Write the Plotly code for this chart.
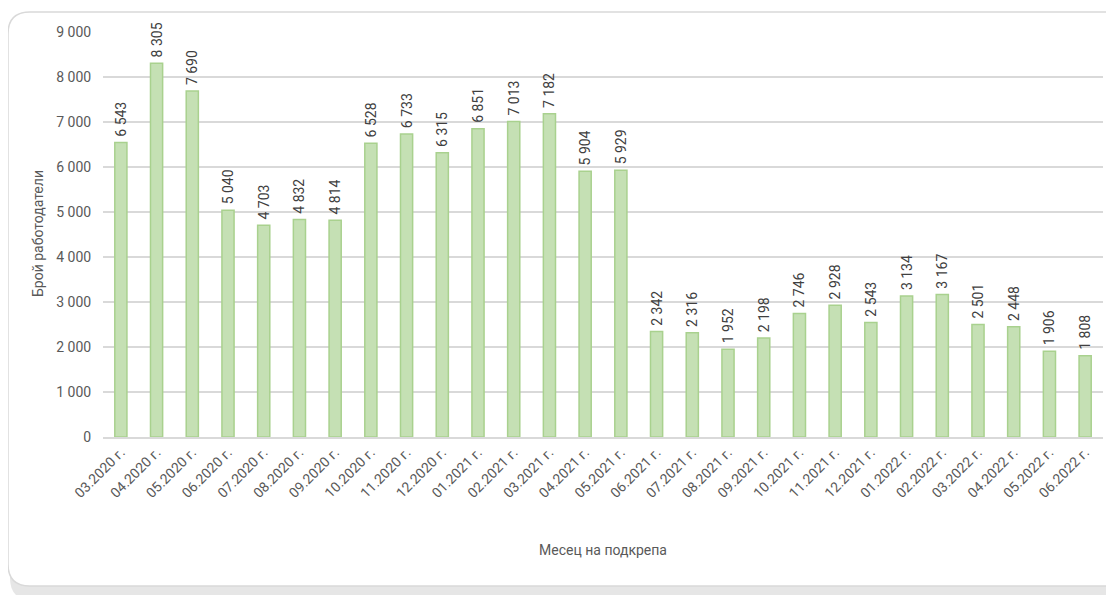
import plotly.graph_objects as go

# Monthly count of employers receiving support
months = ["03.2020 г.", "04.2020 г.", "05.2020 г.", "06.2020 г.", "07.2020 г.", "08.2020 г.",
          "09.2020 г.", "10.2020 г.", "11.2020 г.", "12.2020 г.", "01.2021 г.", "02.2021 г.",
          "03.2021 г.", "04.2021 г.", "05.2021 г.", "06.2021 г.", "07.2021 г.", "08.2021 г.",
          "09.2021 г.", "10.2021 г.", "11.2021 г.", "12.2021 г.", "01.2022 г.", "02.2022 г.",
          "03.2022 г.", "04.2022 г.", "05.2022 г.", "06.2022 г."]
employers = [6543, 8305, 7690, 5040, 4703, 4832, 4814, 6528, 6733, 6315, 6851, 7013,
             7182, 5904, 5929, 2342, 2316, 1952, 2198, 2746, 2928, 2543, 3134, 3167,
             2501, 2448, 1906, 1808]
y_ticks = [0, 1000, 2000, 3000, 4000, 5000, 6000, 7000, 8000, 9000]

# the page body has an 8px margin, so the figure is drawn 8px smaller
OFF = 8
W, H = 1114 - OFF, 595 - OFF
M_L, M_R, M_T, M_B = 103 - OFF, 1114 - 1103, 32 - OFF, 595 - 437
PW, PH = W - M_L - M_R, H - M_T - M_B

FONT = "Roboto, Arial"
GREY = "#595959"


def px(x, y):
    # screen pixel -> paper coordinates
    x, y = x - OFF, y - OFF
    return (x - M_L) / PW, (H - M_B - y) / PH


def rounded_rect(x0, y0, x1, y1, r):
    def p(x, y):
        a, b = px(x, y)
        return f"{a:.5f},{b:.5f}"
    pts = [
        "M" + p(x0 + r, y0),
        "L" + p(x1 - r, y0),
        "Q" + p(x1, y0) + " " + p(x1, y0 + r),
        "L" + p(x1, y1 - r),
        "Q" + p(x1, y1) + " " + p(x1 - r, y1),
        "L" + p(x0 + r, y1),
        "Q" + p(x0, y1) + " " + p(x0, y1 - r),
        "L" + p(x0, y0 + r),
        "Q" + p(x0, y0) + " " + p(x0 + r, y0),
    ]
    return " ".join(pts) + " Z"


labels = ["\u2009" + f"{v:,}".replace(",", " ") for v in employers]

fig = go.Figure()
fig.add_trace(go.Bar(
    x=months,
    y=employers,
    text=labels,
    textposition="outside",
    textangle=-90,
    cliponaxis=False,
    textfont=dict(family=FONT, size=14, color="#404040"),
    marker=dict(color="#c5e0b4", line=dict(color="#a9d18e", width=1.5)),
    hoverinfo="x+y",
))

shapes = [
    # shadow under the card
    dict(type="path", xref="paper", yref="paper", layer="below",
         path=rounded_rect(10, 16, 1140, 600, 22),
         fillcolor="#e6e6e6", line=dict(width=0)),
    dict(type="path", xref="paper", yref="paper", layer="below",
         path=rounded_rect(8, 12, 1140, 586, 22),
         fillcolor="white", line=dict(color="#d9d9d9", width=1.5)),
]

# y-axis title placed by hand so it sits as close to the edge as in the original
ax, ay = px(38, 234)
annotations = [dict(
    text="Брой работодатели", xref="paper", yref="paper", x=ax, y=ay,
    textangle=-90, showarrow=False, xanchor="center", yanchor="middle",
    font=dict(family=FONT, size=14, color=GREY),
)]

fig.update_layout(
    width=W, height=H,
    margin=dict(l=M_L, r=M_R, t=M_T, b=M_B),
    paper_bgcolor="white",
    plot_bgcolor="rgba(0,0,0,0)",
    separators=", ",
    showlegend=False,
    bargap=0.66,
    uniformtext=dict(minsize=14, mode="show"),
    font=dict(family=FONT, color=GREY),
    shapes=shapes,
    annotations=annotations,
    xaxis=dict(
        tickangle=-45,
        tickfont=dict(family=FONT, size=14, color=GREY),
        showgrid=False,
        showline=True, linecolor="#d9d9d9", linewidth=1.5,
        ticks="",
        title=dict(text="Месец на подкрепа", font=dict(family=FONT, size=14, color=GREY),
                   standoff=45),
    ),
    yaxis=dict(
        range=[0, 9000],
        tickvals=y_ticks,
        tickformat=",d",
        tickfont=dict(family=FONT, size=14, color=GREY),
        showgrid=True, gridcolor="#d9d9d9", gridwidth=1.5,
        zeroline=False,
        ticks="outside", ticklen=8, tickcolor="rgba(0,0,0,0)",
    ),
)

fig.write_html("out.html")
